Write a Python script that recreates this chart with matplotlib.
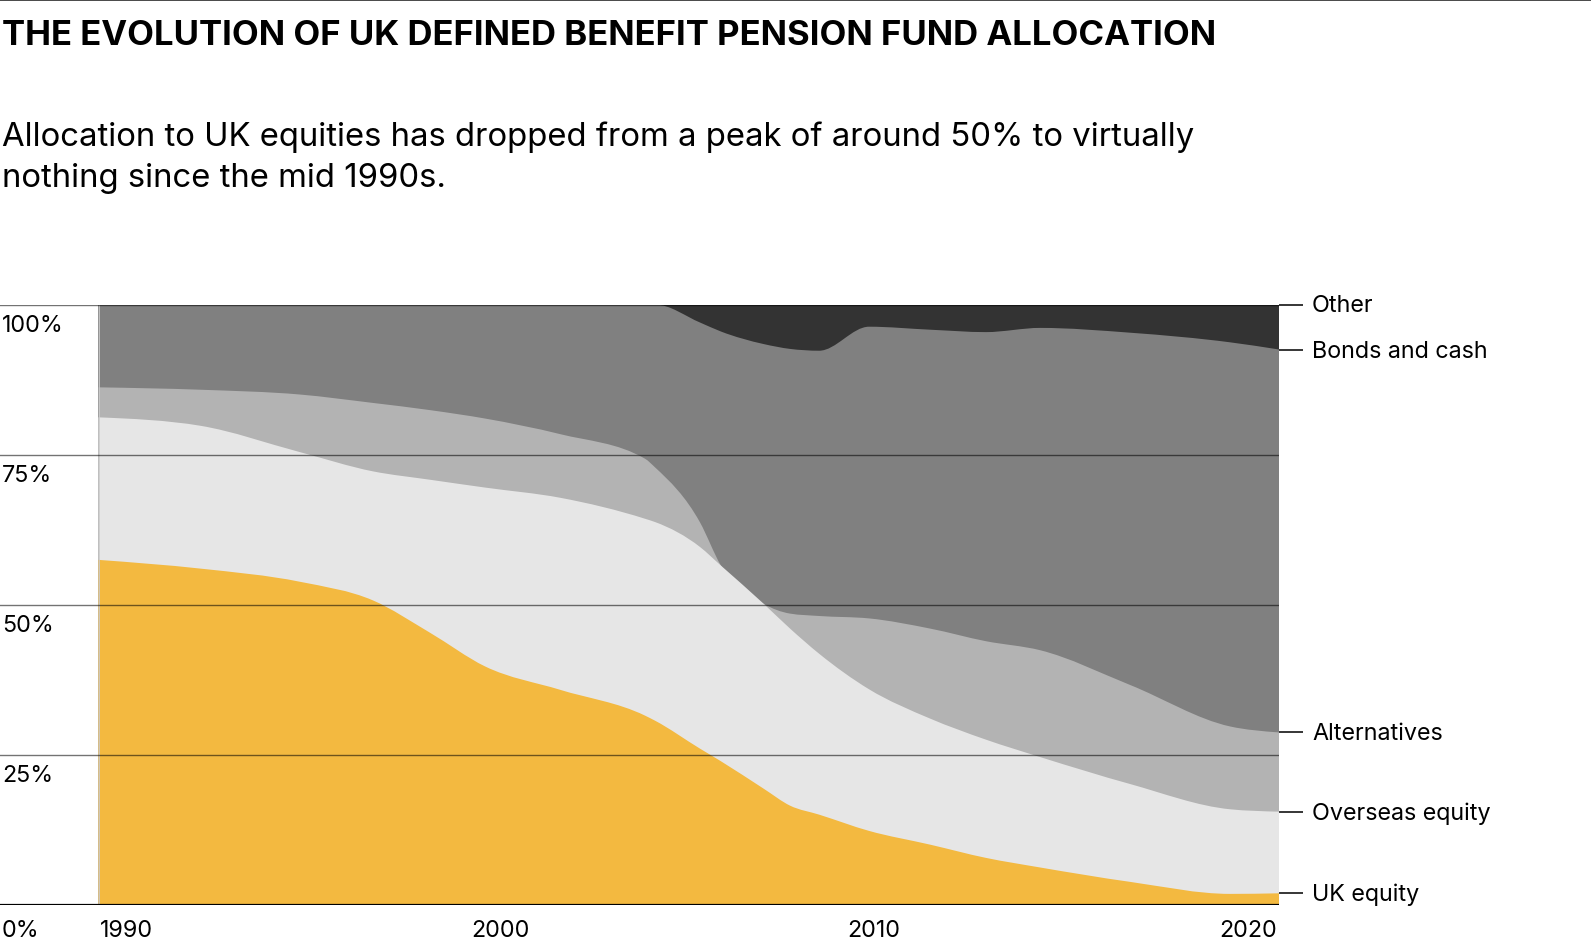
import numpy as np
import matplotlib
matplotlib.use("Agg")
import matplotlib.pyplot as plt
from matplotlib.path import Path
from matplotlib.patches import PathPatch
from matplotlib.transforms import offset_copy
from matplotlib.lines import Line2D

plt.rcParams['font.family'] = ['Inter', 'DejaVu Sans']

# shares of DB pension fund assets (%)
years = [1989.25, 1991.97, 1994.64, 1996.59, 1998.12, 1999.59, 2001.60, 2003.87,
         2004.14, 2005.34, 2005.90, 2007.05, 2007.75, 2008.53, 2009.86, 2011.50,
         2012.99, 2014.44, 2016.85, 2019.52, 2020.83]
uk_equity = [57.45, 56.0, 53.8, 50.7, 45.3, 39.7, 35.8, 31.5, 30.65, 26.0, 23.9,
             19.3, 16.5, 15.0, 12.3, 10.0, 7.8, 6.2, 3.8, 1.8, 1.9]
overseas_equity = [23.75, 23.8, 21.6, 21.5, 25.5, 29.8, 32.0, 32.8, 33.1, 33.6, 32.6,
                   30.8, 29.5, 26.8, 23.6, 21.0, 19.7, 18.4, 16.3, 14.1, 13.6]
alternatives = [5.0, 6.0, 9.6, 11.4, 11.6, 11.5, 10.6, 10.0, 9.1, 4.1, 0.0,
                0.0, 2.5, 6.3, 11.8, 15.0, 16.4, 17.8, 16.5, 13.8, 13.2]
bonds_cash = [13.8, 14.2, 15.0, 16.4, 17.6, 19.0, 21.6, 25.7, 27.15, 33.3, 39.0,
              43.3, 44.1, 44.2, 48.6, 49.8, 51.5, 53.7, 58.7, 64.0, 63.8]
other = [0, 0, 0, 0, 0, 0, 0, 0, 0, 3.0, 4.5,
         6.6, 7.4, 7.7, 3.7, 4.2, 4.6, 3.9, 4.7, 6.3, 7.5]

series_names = ['UK equity', 'Overseas equity', 'Alternatives', 'Bonds and cash', 'Other']
colors = ['#F3B940', '#E6E6E6', '#B3B3B3', '#808080', '#333333']
tick_years = [1990, 2000, 2010, 2020]
pct_ticks = [25, 50, 75, 100]

title = 'THE EVOLUTION OF UK DEFINED BENEFIT PENSION FUND ALLOCATION'
subtitle = ['Allocation to UK equities has dropped from a peak of around 50% to virtually',
            'nothing since the mid 1990s.']


def monotone_slopes(x, y):
    # tangents like d3.curveMonotoneX
    x = np.asarray(x, float)
    y = np.asarray(y, float)
    n = len(x)
    t = np.zeros(n)
    for i in range(1, n - 1):
        h0 = x[i] - x[i - 1]
        h1 = x[i + 1] - x[i]
        s0 = (y[i] - y[i - 1]) / h0
        s1 = (y[i + 1] - y[i]) / h1
        p = (s0 * h1 + s1 * h0) / (h0 + h1)
        t[i] = (np.sign(s0) + np.sign(s1)) * min(abs(s0), abs(s1), 0.5 * abs(p))
    t[0] = (3 * (y[1] - y[0]) / (x[1] - x[0]) - t[1]) / 2
    t[-1] = (3 * (y[-1] - y[-2]) / (x[-1] - x[-2]) - t[-2]) / 2
    return t


def area_path(x, y):
    t = monotone_slopes(x, y)
    verts = [(x[0], y[0])]
    codes = [Path.MOVETO]
    for i in range(len(x) - 1):
        dx = (x[i + 1] - x[i]) / 3
        verts += [(x[i] + dx, y[i] + dx * t[i]),
                  (x[i + 1] - dx, y[i + 1] - dx * t[i + 1]),
                  (x[i + 1], y[i + 1])]
        codes += [Path.CURVE4] * 3
    verts += [(x[-1], 0), (x[0], 0), (x[0], 0)]
    codes += [Path.LINETO, Path.LINETO, Path.CLOSEPOLY]
    return Path(verts, codes)


fig = plt.figure(figsize=(15.91, 9.45), dpi=100)
ax = fig.add_axes([0, 39.3 / 945, 1279 / 1591, 600.2 / 945])
ax.set_xlim(1986.613, years[-1])
ax.set_ylim(0, 100)
ax.axis('off')

stack = np.array([uk_equity, overseas_equity, alternatives, bonds_cash, other])
tops = np.cumsum(stack, axis=0)

# draw from the top layer down so each one covers the ones above it
for k in range(len(series_names) - 1, -1, -1):
    ax.add_patch(PathPatch(area_path(years, tops[k]), facecolor=colors[k],
                           edgecolor='none', zorder=1 + (4 - k)))

ax.axvline(years[0], color='#cccccc', lw=0.6, zorder=8)
for p in pct_ticks:
    ax.axhline(p, color='black', alpha=0.55, lw=1.0, zorder=9)
ax.axhline(0, color='black', lw=1.6, zorder=10)

lab_size = 16.8

# y labels sit under their gridlines
ylab_tr = offset_copy(ax.get_yaxis_transform(), fig=fig, x=1.5, y=-26.5 * 0.72, units='points')
for p in pct_ticks:
    ax.text(0, p, f'{p}%', transform=ylab_tr, fontsize=lab_size, va='baseline', ha='left')

xlab_tr = offset_copy(ax.get_xaxis_transform(), fig=fig, y=-31 * 0.72, units='points')
ax.text(0.001, 0, '0%', transform=offset_copy(ax.transAxes, fig=fig, y=-31 * 0.72, units='points'),
        fontsize=lab_size, va='baseline', ha='left')
for yr in tick_years:
    ax.text(yr, 0, str(yr), transform=xlab_tr, fontsize=lab_size, va='baseline', ha='center')

# right-hand series labels with short leader ticks
px_per_year = 37.38
end_vals = [tops[0][-1], tops[1][-1], tops[2][-1], tops[3][-1], 100]
lab_tr = offset_copy(ax.transData, fig=fig, x=33 * 0.72, y=-7 * 0.72, units='points')
for name, v in zip(series_names, end_vals):
    ax.plot([years[-1], years[-1] + 24 / px_per_year], [v, v], color='black', lw=1.1,
            clip_on=False, zorder=11, solid_capstyle='butt')
    ax.text(years[-1], v, name, transform=lab_tr, fontsize=lab_size, va='baseline', ha='left')

# header
fig.add_artist(Line2D([0, 1], [1 - 0.8 / 945, 1 - 0.8 / 945], color='#3a3a3a', lw=1.3))
fig.text(2 / 1591, 1 - 45 / 945, title, fontsize=25.0, fontweight='bold', va='baseline', ha='left')
fig.text(1.5 / 1591, 1 - 145.7 / 945, subtitle[0], fontsize=23.66, va='baseline', ha='left')
fig.text(1.5 / 1591, 1 - 186.7 / 945, subtitle[1], fontsize=23.66, va='baseline', ha='left')

fig.savefig('out.png', dpi=100)
